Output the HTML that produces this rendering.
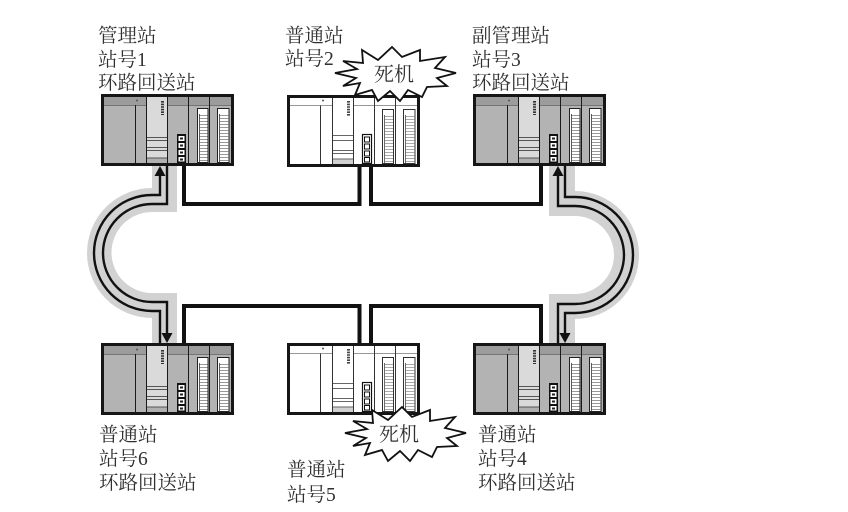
<!DOCTYPE html>
<html><head><meta charset="utf-8"><style>
html,body{margin:0;padding:0;background:#fff;}
svg{display:block;}
text{font-family:"Liberation Serif","Noto Serif CJK SC",serif;fill:#303030;}
</style></head><body>
<svg width="848" height="512" viewBox="0 0 848 512" xmlns="http://www.w3.org/2000/svg" xmlns:xlink="http://www.w3.org/1999/xlink">
<defs>
<g id="gplc">
  <rect x="0" y="0" width="133" height="72" fill="#161616"/>
  <rect x="3" y="3" width="127" height="66" fill="#b3b3b3"/>
  <rect x="3" y="3" width="42" height="8" fill="#9c9c9c"/>
  <rect x="67" y="3" width="63" height="8" fill="#9c9c9c"/>
  <rect x="3" y="11" width="127" height="0.8" fill="#666"/>
  <circle cx="36" cy="6.5" r="1" fill="#555"/>
  <rect x="46" y="3" width="20" height="66" fill="#dadada"/>
  <rect x="46" y="64" width="20" height="5" fill="#b0b0b0"/>
  <line x1="61.5" y1="7" x2="61.5" y2="21" stroke="#333" stroke-width="3" stroke-dasharray="1.6 1"/>
  <g stroke="#555" stroke-width="0.9">
    <line x1="46" y1="43.5" x2="66" y2="43.5"/><line x1="46" y1="46.5" x2="66" y2="46.5"/>
    <line x1="46" y1="53.5" x2="66" y2="53.5"/><line x1="46" y1="56.5" x2="66" y2="56.5"/>
    <line x1="46" y1="64" x2="66" y2="64"/>
  </g>
  <g stroke="#1a1a1a" stroke-width="1">
    <line x1="34.5" y1="11" x2="34.5" y2="69"/>
    <line x1="45.5" y1="3" x2="45.5" y2="69"/>
    <line x1="66.5" y1="3" x2="66.5" y2="69"/>
    <line x1="87.5" y1="3" x2="87.5" y2="69"/>
    <line x1="108.5" y1="3" x2="108.5" y2="69"/>
  </g>
  <rect x="76" y="40" width="9" height="29" fill="#111"/>
  <g fill="#fff"><rect x="77.5" y="42" width="6" height="5"/><rect x="77.5" y="49" width="6" height="5"/><rect x="77.5" y="56" width="6" height="5"/><rect x="77.5" y="63" width="6" height="4.5"/></g>
  <g fill="#222"><rect x="79" y="43.5" width="3" height="2"/><rect x="79" y="50.5" width="3" height="2"/><rect x="79" y="57.5" width="3" height="2"/><rect x="79" y="64.5" width="3" height="2"/></g>
  <rect x="96.5" y="14.5" width="10.5" height="54" fill="#fff" stroke="#222" stroke-width="1"/>
  <line x1="102.5" y1="21" x2="102.5" y2="68" stroke="#999" stroke-width="8" stroke-dasharray="1 2"/>
  <line x1="98.5" y1="20" x2="98.5" y2="68" stroke="#333" stroke-width="0.8"/>
  <rect x="116.5" y="14.5" width="11.5" height="54" fill="#fff" stroke="#222" stroke-width="1"/>
  <line x1="123" y1="21" x2="123" y2="68" stroke="#999" stroke-width="8.5" stroke-dasharray="1 2"/>
  <line x1="118.5" y1="20" x2="118.5" y2="68" stroke="#333" stroke-width="0.8"/>
</g>
<g id="wplc">
  <rect x="1.5" y="1.5" width="130" height="69" fill="#fff" stroke="#161616" stroke-width="3"/>
  <rect x="46" y="64" width="20" height="5" fill="#d0d0d0"/>
  <g stroke="#777" stroke-width="0.8">
    <line x1="3" y1="10.5" x2="46" y2="10.5"/>
    <line x1="66" y1="10.5" x2="130" y2="10.5"/>
  </g>
  <g stroke="#333" stroke-width="1">
    <line x1="33.5" y1="10.5" x2="33.5" y2="69"/>
    <line x1="45.5" y1="3" x2="45.5" y2="69"/>
    <line x1="66.5" y1="3" x2="66.5" y2="69"/>
    <line x1="87.5" y1="3" x2="87.5" y2="69"/>
    <line x1="108.5" y1="3" x2="108.5" y2="69"/>
  </g>
  <circle cx="36" cy="5.5" r="1" fill="#555"/>
  <line x1="61.5" y1="6" x2="61.5" y2="21" stroke="#444" stroke-width="3" stroke-dasharray="1.6 1"/>
  <g stroke="#666" stroke-width="0.9">
    <line x1="46" y1="40.5" x2="66" y2="40.5"/><line x1="46" y1="45.5" x2="66" y2="45.5"/>
    <line x1="46" y1="55.5" x2="66" y2="55.5"/><line x1="46" y1="58.5" x2="66" y2="58.5"/>
    <line x1="46" y1="64" x2="66" y2="64"/>
  </g>
  <rect x="75.5" y="39.5" width="9" height="29" fill="#fff" stroke="#111" stroke-width="1.2"/>
  <g fill="none" stroke="#111" stroke-width="1"><rect x="77.5" y="42" width="5" height="5"/><rect x="77.5" y="49" width="5" height="5"/><rect x="77.5" y="56" width="5" height="5"/><rect x="77.5" y="62.5" width="5" height="4.5"/></g>
  <rect x="95.5" y="14.5" width="11" height="54" fill="#fff" stroke="#333" stroke-width="1"/>
  <line x1="102" y1="21" x2="102" y2="68" stroke="#aaa" stroke-width="8" stroke-dasharray="1 2"/>
  <line x1="97.5" y1="20" x2="97.5" y2="68" stroke="#444" stroke-width="0.8"/>
  <rect x="116.5" y="14.5" width="11.5" height="54" fill="#fff" stroke="#333" stroke-width="1"/>
  <line x1="123" y1="21" x2="123" y2="68" stroke="#aaa" stroke-width="8.5" stroke-dasharray="1 2"/>
  <line x1="118.5" y1="20" x2="118.5" y2="68" stroke="#444" stroke-width="0.8"/>
</g>
</defs>

<!-- gray ring bands -->
<path d="M152,166 H177 V212 H152 A40.5,40.5 0 0 0 152,293 H177 V343 H152 V318 A65,65 0 0 1 152,188 Z" fill="#d2d2d2"/>
<path d="M575,166 H549 V216 H575 A39,39 0 0 1 575,294 H549 V343 H575 V319 A64,64 0 0 0 575,191 Z" fill="#d2d2d2"/>

<!-- ring lines -->
<g fill="none" stroke="#111" stroke-width="2.4">
  <path d="M160,172 V195 H152 A58,58 0 0 0 152,311 H160 V343"/>
  <path d="M167,166 V204 H152 A49,49 0 0 0 152,302 H167 V336"/>
  <path d="M565,166 V197 H575 A58,58 0 0 1 575,313 H565 V336"/>
  <path d="M558,172 V206 H575 A49,49 0 0 1 575,304 H558 V343"/>
</g>
<g fill="#111">
  <polygon points="160,166 154.5,176 165.5,176"/>
  <polygon points="167,343 161.5,333 172.5,333"/>
  <polygon points="558,166 552.5,176 563.5,176"/>
  <polygon points="565,343 559.5,333 570.5,333"/>
</g>

<!-- network lines -->
<g fill="none" stroke="#111" stroke-width="4" stroke-linejoin="miter">
  <path d="M184,166 V204 H359.5 V167"/>
  <path d="M371,167 V204 H541 V166"/>
  <path d="M184,343 V306 H359.5 V343"/>
  <path d="M371,343 V306 H541 V343"/>
</g>

<!-- PLC units -->
<use xlink:href="#gplc" href="#gplc" x="101" y="94"/>
<use xlink:href="#wplc" href="#wplc" x="287" y="95"/>
<use xlink:href="#gplc" href="#gplc" x="473" y="94"/>
<use xlink:href="#gplc" href="#gplc" x="101" y="343"/>
<use xlink:href="#wplc" href="#wplc" x="287" y="343"/>
<use xlink:href="#gplc" href="#gplc" x="473" y="343"/>

<!-- starbursts -->
<polygon points="335,73 357,69 343,61 363,63 362,50 378,60 392,47 402,57 420,50 420,61 445,57 435,68 456,73 437,78 447,86 427,87 422,97 408,90 400,101 390,91 378,101 372,90 355,95 360,83 343,86 356,78" fill="#fff" stroke="#111" stroke-width="1.8" stroke-linejoin="miter"/>
<polygon points="345,433 367,429 353,421 373,423 372,410 388,420 402,407 412,417 430,410 430,421 455,417 445,428 466,433 447,438 457,446 437,447 432,457 418,450 410,461 400,451 388,461 382,450 365,455 370,443 353,446 366,438" fill="#fff" stroke="#111" stroke-width="1.8" stroke-linejoin="miter"/>
<text x="374" y="81" font-size="20">死机</text>
<text x="379" y="441" font-size="20">死机</text>

<!-- labels -->
<g font-size="19.5">
  <text x="98" y="42">管理站</text>
  <text x="98" y="66">站号1</text>
  <text x="98" y="89">环路回送站</text>

  <text x="285" y="42">普通站</text>
  <text x="285" y="65">站号2</text>

  <text x="472" y="42">副管理站</text>
  <text x="472" y="66">站号3</text>
  <text x="472" y="89">环路回送站</text>

  <text x="99" y="441">普通站</text>
  <text x="99" y="465">站号6</text>
  <text x="99" y="489">环路回送站</text>

  <text x="287" y="476">普通站</text>
  <text x="287" y="501">站号5</text>

  <text x="478" y="441">普通站</text>
  <text x="478" y="465">站号4</text>
  <text x="478" y="489">环路回送站</text>
</g>
</svg>
</body></html>
